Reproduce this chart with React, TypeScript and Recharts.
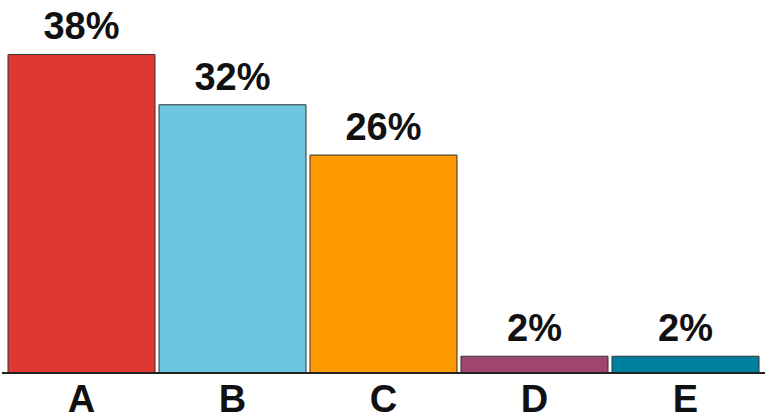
import React from 'react';
import { BarChart, Bar, XAxis, YAxis, Cell, LabelList } from 'recharts';

// Share per category, in percent
const categories = ['A', 'B', 'C', 'D', 'E'];
const shares = [38, 32, 26, 2, 2];

const BAR_COLORS = ['#df3731', '#6dc6df', '#ff9a00', '#9e4570', '#00809f'];
const FONT = '"Liberation Sans", Arial, Helvetica, sans-serif';

const data = categories.map((name, i) => ({ name, share: shares[i] }));

const App: React.FC = () => {
  return (
    <div style={{ position: 'absolute', left: 0, top: 0, background: '#fff' }}>
      <BarChart
        width={765}
        height={420}
        data={data}
        margin={{ top: 0, right: 0, left: 2, bottom: 0 }}
        barCategoryGap={2}
      >
        <YAxis hide domain={[0, 44.5]} />
        <XAxis
          dataKey="name"
          height={47}
          padding={{ left: 4, right: 4 }}
          axisLine={{ stroke: '#222', strokeWidth: 2 }}
          tickLine={false}
          tickSize={0}
          tickMargin={12}
          tick={{ fill: '#111', fontSize: 38, fontWeight: 'bold', fontFamily: FONT }}
          interval={0}
        />
        <Bar dataKey="share" stroke="#333" strokeWidth={1} isAnimationActive={false}>
          {data.map((d, i) => (
            <Cell key={d.name} fill={BAR_COLORS[i]} />
          ))}
          <LabelList
            dataKey="share"
            position="top"
            offset={15}
            formatter={(v: number) => `${v}%`}
            style={{ fill: '#111', fontSize: 38, fontWeight: 'bold', fontFamily: FONT }}
          />
        </Bar>
      </BarChart>
    </div>
  );
};

export default App;
